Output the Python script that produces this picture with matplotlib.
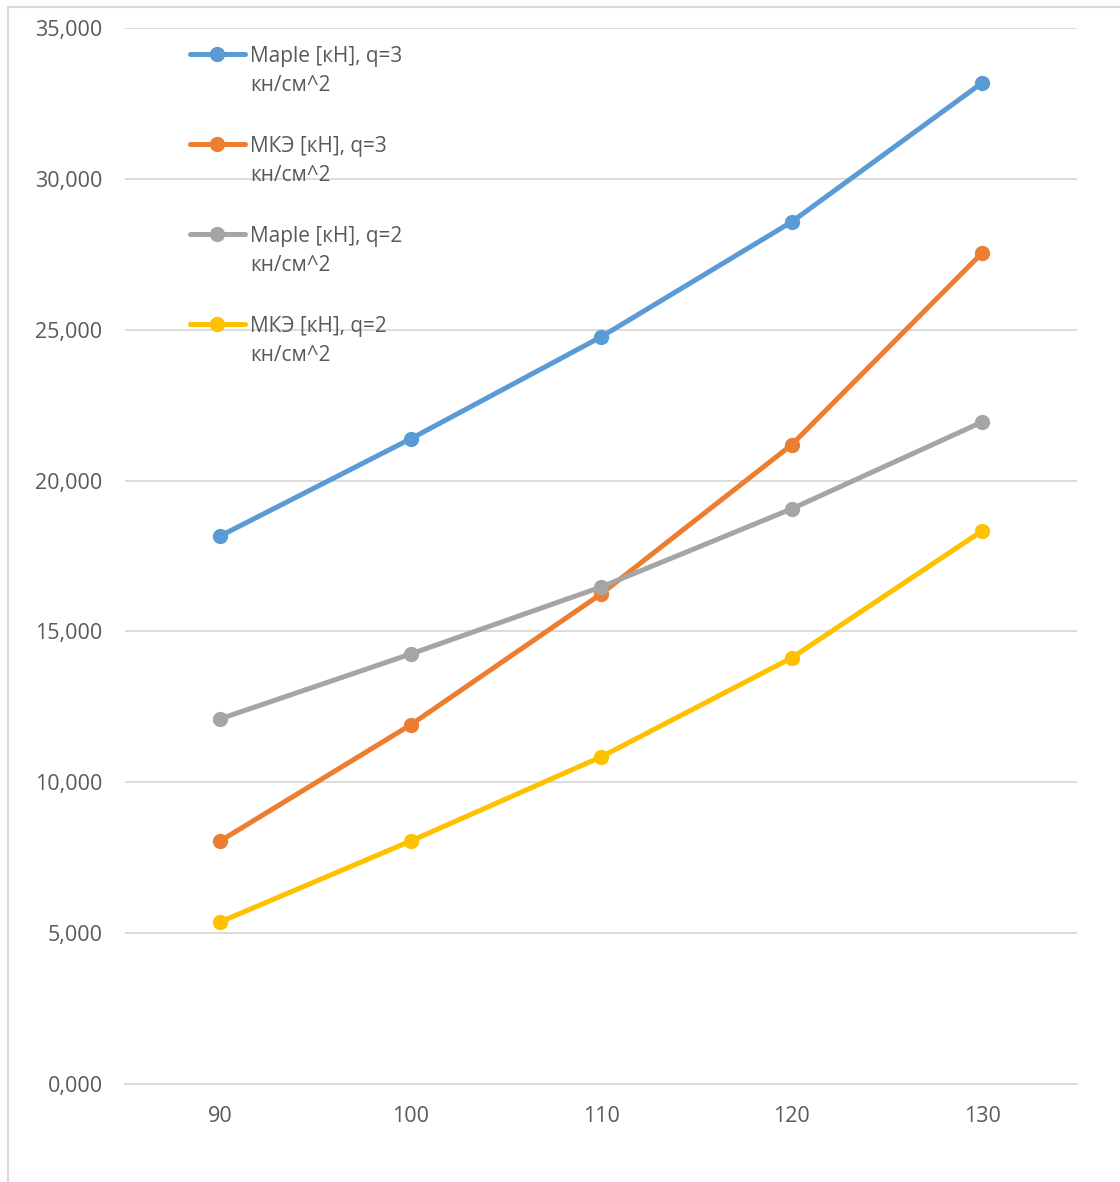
import matplotlib
matplotlib.use("Agg")
import matplotlib.pyplot as plt
from matplotlib.lines import Line2D
from matplotlib.ticker import FuncFormatter

plt.rcParams['font.family'] = ['Open Sans', 'DejaVu Sans']

categories = ["90", "100", "110", "120", "130"]
maple_q3 = [18.16, 21.38, 24.76, 28.57, 33.18]
fem_q3 = [8.05, 11.90, 16.24, 21.18, 27.54]
maple_q2 = [12.10, 14.25, 16.47, 19.06, 21.94]
fem_q2 = [5.37, 8.05, 10.84, 14.12, 18.33]

labels = ["Maple [кН], q=3\nкн/см^2", "МКЭ [кН], q=3\nкн/см^2",
          "Maple [кН], q=2\nкн/см^2", "МКЭ [кН], q=2\nкн/см^2"]
colors = ["#5B9BD5", "#ED7D31", "#A5A5A5", "#FFC000"]
series = [maple_q3, fem_q3, maple_q2, fem_q2]

W, H = 1120, 1182
fig = plt.figure(figsize=(W / 100, H / 100), dpi=100)

# chart-area frame (top and left edges fall inside the image)
border = "#D9D9D9"
fig.lines.append(Line2D([7.5 / W, 1.0], [1 - 6.5 / H, 1 - 6.5 / H],
                        transform=fig.transFigure, color=border, linewidth=1.5))
fig.lines.append(Line2D([7.5 / W, 7.5 / W], [0.0, 1 - 6.5 / H],
                        transform=fig.transFigure, color=border, linewidth=1.5))

ax = fig.add_axes([124.75 / W, (H - 1084) / H, 952.5 / W, 1056 / H])
x = list(range(len(categories)))
for vals, c in zip(series, colors):
    ax.plot(x, vals, color=c, linewidth=3.6, marker='o', markersize=10,
            solid_capstyle='round', zorder=3)

ax.set_xlim(-0.5, len(categories) - 0.5)
ax.set_ylim(0, 35)
ax.set_yticks(range(0, 36, 5))
ax.yaxis.set_major_formatter(FuncFormatter(lambda v, p: f"{v:.3f}".replace('.', ',')))
ax.set_xticks(x)
ax.set_xticklabels(categories)
ax.grid(axis='y', color=border, linewidth=1.3)
ax.set_axisbelow(True)
for s in ['top', 'right', 'left']:
    ax.spines[s].set_visible(False)
ax.spines['bottom'].set_color(border)
ax.spines['bottom'].set_linewidth(1.3)
ax.tick_params(length=0, labelsize=15.5, colors="#595959")
ax.tick_params(axis='y', pad=16)
ax.tick_params(axis='x', pad=16)

# legend drawn in axes coordinates, handle aligned to the first text line
for i, (lab, c) in enumerate(zip(labels, colors)):
    ypx = 54 + 90 * i
    ya = (1084 - ypx) / 1056
    x0 = (190 - 124.75) / 952.5
    x1 = (245 - 124.75) / 952.5
    xm = (217 - 124.75) / 952.5
    ax.plot([x0, x1], [ya, ya], color=c, linewidth=3.6, transform=ax.transAxes,
            clip_on=False, solid_capstyle='round', zorder=4)
    ax.plot([xm], [ya], marker='o', markersize=10, color=c, transform=ax.transAxes,
            clip_on=False, zorder=4)
    ax.text((250 - 124.75) / 952.5, ya + 8 / 1056, lab, transform=ax.transAxes,
            fontsize=15, color="#595959", va='top', ha='left', linespacing=1.5,
            zorder=5)

fig.savefig("out.png", dpi=100)
